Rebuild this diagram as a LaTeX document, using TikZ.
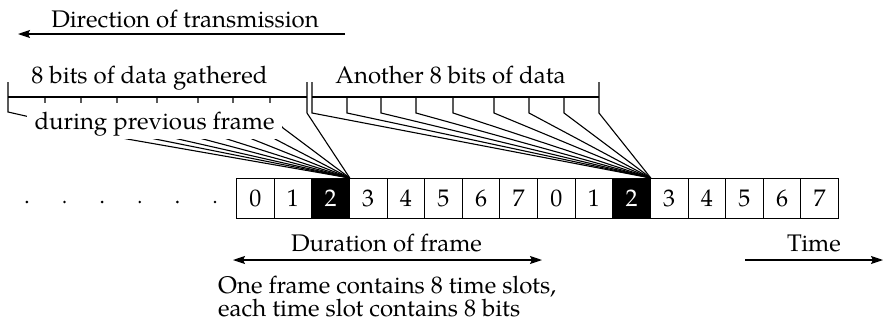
\documentclass[tikz,border=0pt]{standalone}
\usepackage{fontspec}
\setmainfont{TeX Gyre Pagella}
\usetikzlibrary{arrows.meta}
\begin{document}
\begin{tikzpicture}[x=1pt,y=-1pt,
  every node/.style={font=\fontsize{24}{23}\selectfont},
  lbl/.style={inner sep=0pt, anchor=base},
  slot/.style={draw, line width=0.9pt, minimum width=37.625pt, minimum height=40pt,
               inner sep=0pt, anchor=north west},
  hot/.style={slot, fill=black, text=white},
  wire/.style={line width=1.1pt},
  tip/.tip={Stealth[length=12pt,width=8pt,inset=2pt]},
  arr/.style={line width=1.1pt, -tip},
  darr/.style={line width=1.1pt, tip-tip}]
\useasboundingbox (0,0) rectangle (889,330);

% time slots: two frames of eight slots, slot 2 highlighted
\foreach \i in {0,...,15}{
  \pgfmathtruncatemacro\d{mod(\i,8)}
  \ifnum\d=2
    \node[hot] (c\i) at ({236+37.625*\i},178) {\d};
  \else
    \node[slot] (c\i) at ({236+37.625*\i},178) {\d};
  \fi
}
\coordinate (k1) at (c2.north east);
\coordinate (k2) at (c10.north east);

% earlier slots
\foreach \k in {0,...,5}
  \fill ({215-37.625*\k},202) circle (1.4pt);

% bits gathered during the previous frame
\draw[wire] (8,97) -- (307,97);
\draw[wire] (8,82) -- (8,112) -- (127,139) -- (k1);
\draw[wire] (307,82) -- (307,113) -- (k1);
\foreach \x/\e in {45/155,81/178,117/203,157/227,198/252,233/275}
  \draw[wire] (\x,97) -- (\x,112) -- (\e,139) -- (k1);
\draw[wire] (270,97) -- (270,112) -- (283,128) -- (k1);
\node[lbl, fill=white, inner xsep=8pt, inner ysep=4pt, text height=22pt, text depth=6pt]
  (prev) at (154.5,129) {during previous frame};

% the next eight bits
\draw[wire] (312,97) -- (599,97);
\draw[wire] (312,82) -- (312,113) -- (k2);
\draw[wire] (599,82) -- (599,113) -- (k2);
\foreach \x in {347,381,416,453,494,529,564}
  \draw[wire] (\x,97) -- (\x,113) -- (k2);

% labels
\node[lbl] (gath) at (149.5,83) {8 bits of data gathered};
\node[lbl] (anot) at (450.5,83) {Another 8 bits of data};

\node[lbl] (dirtxt) at (185,27) {Direction of transmission};
\coordinate (dirR) at (345,34);
\coordinate (dirL) at (18,34);
\draw[arr] (dirR) -- (dirL);

\node[lbl] (dur) at (386.5,251) {Duration of frame};
\coordinate (durL) at (233,260);
\coordinate (durR) at (542,260);
\draw[darr] (durL) -- (durR);

\node[lbl] (time) at (814,251) {Time};
\coordinate (timeL) at (745,260);
\coordinate (timeR) at (883,260);
\draw[arr] (timeL) -- (timeR);

\node[lbl, anchor=base west] (note1) at (218,293) {One frame contains 8 time slots,};
\node[lbl, anchor=base west] (note2) at (218,316) {each time slot contains 8 bits};
\end{tikzpicture}
\end{document}
